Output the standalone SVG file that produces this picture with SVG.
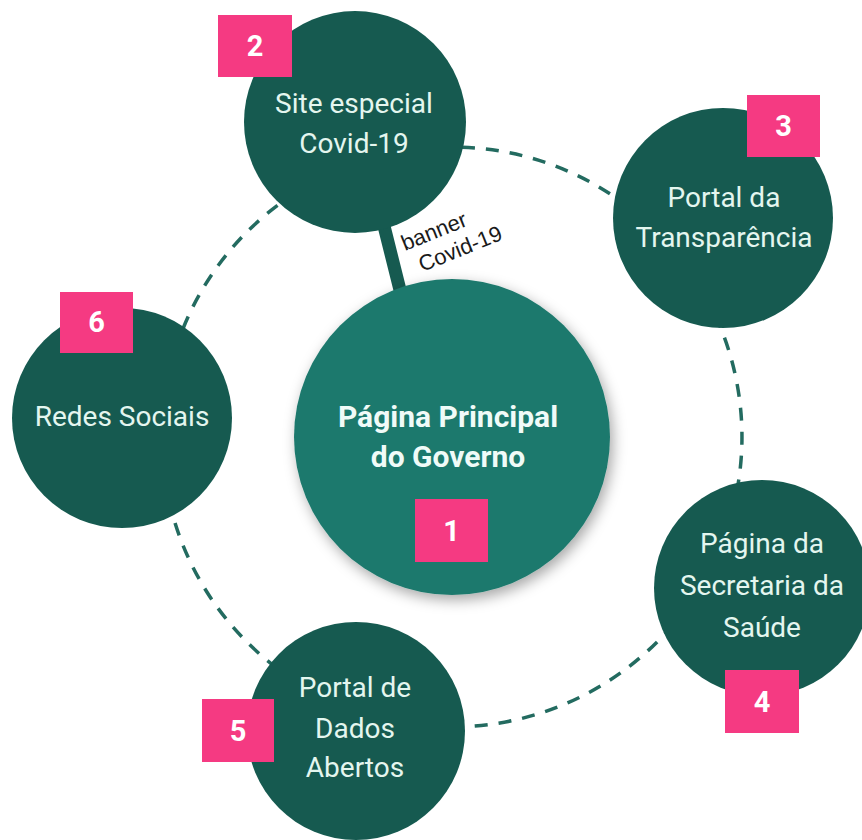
<svg xmlns="http://www.w3.org/2000/svg" width="862" height="840" viewBox="0 0 862 840">
  <defs>
    <filter id="shadow" x="-20%" y="-20%" width="140%" height="140%">
      <feDropShadow dx="3" dy="5" stdDeviation="7" flood-color="#000" flood-opacity="0.35"/>
    </filter>
    <style>
      .node { fill: #165a50; }
      .main { fill: #1f796d; }
      .badge { fill: #f53a82; }
      .lbl { font-family: Roboto, "Liberation Sans", sans-serif; font-size: 28px; fill: #e4f6ef; text-anchor: middle; }
      .mlbl { font-family: Roboto, "Liberation Sans", sans-serif; font-size: 30px; font-weight: bold; fill: #f0fbf8; text-anchor: middle; }
      .num { font-family: Roboto, "Liberation Sans", sans-serif; font-size: 29px; font-weight: bold; fill: #ffffff; text-anchor: middle; }
      .ring { fill: none; stroke: #236b60; stroke-width: 3.5; stroke-dasharray: 13 11; }
      .bar { stroke: #165a50; stroke-width: 13; }
      .blbl { font-family: "Liberation Sans", Arial, sans-serif; font-size: 22px; fill: #1a1a1a; }
    </style>
  </defs>
  <rect width="862" height="840" fill="#ffffff"/>

  <g id="connectors">
    <path class="ring" d="M367.2,159.7 A290,290 0 0 1 677.4,254.5"/>
    <path class="ring" d="M677.4,254.5 A290,290 0 0 1 712.6,564.1"/>
    <path class="ring" d="M712.6,564.1 A290,290 0 0 1 362.4,712.8"/>
    <path class="ring" d="M362.4,712.8 A290,290 0 0 1 162.4,421.8"/>
    <path class="ring" d="M162.4,421.8 A290,290 0 0 1 367.2,159.7"/>
    <line class="bar" x1="384" y1="226" x2="401" y2="294"/>
    <g transform="rotate(-22 405 251)">
      <text class="blbl" x="405" y="251">banner</text>
      <text class="blbl" x="413" y="277">Covid-19</text>
    </g>
  </g>

  <g id="node1">
    <circle class="main" cx="452" cy="437" r="158" filter="url(#shadow)"/>
    <text class="mlbl" x="448" y="427">Página Principal</text>
    <text class="mlbl" x="448" y="467">do Governo</text>
    <rect class="badge" x="415" y="499" width="73" height="63"/>
    <text class="num" x="451.5" y="541">1</text>
  </g>

  <g id="node2">
    <circle class="node" cx="355" cy="122" r="111"/>
    <text class="lbl" x="354" y="113">Site especial</text>
    <text class="lbl" x="354" y="153">Covid-19</text>
    <rect class="badge" x="218" y="15" width="74" height="62"/>
    <text class="num" x="255" y="56">2</text>
  </g>

  <g id="node3">
    <circle class="node" cx="723" cy="218" r="110"/>
    <text class="lbl" x="724" y="207">Portal da</text>
    <text class="lbl" x="724" y="247">Transparência</text>
    <rect class="badge" x="747" y="95" width="73" height="62"/>
    <text class="num" x="783.5" y="136">3</text>
  </g>

  <g id="node4">
    <circle class="node" cx="762" cy="588" r="108"/>
    <text class="lbl" x="762" y="553">Página da</text>
    <text class="lbl" x="762" y="595">Secretaria da</text>
    <text class="lbl" x="762" y="637">Saúde</text>
    <rect class="badge" x="725" y="670" width="74" height="63"/>
    <text class="num" x="762" y="712">4</text>
  </g>

  <g id="node5">
    <circle class="node" cx="356" cy="731" r="109"/>
    <text class="lbl" x="355" y="697">Portal de</text>
    <text class="lbl" x="355" y="738">Dados</text>
    <text class="lbl" x="355" y="777">Abertos</text>
    <rect class="badge" x="202" y="699" width="72" height="63"/>
    <text class="num" x="238" y="741">5</text>
  </g>

  <g id="node6">
    <circle class="node" cx="122" cy="418" r="110"/>
    <text class="lbl" x="122" y="426">Redes Sociais</text>
    <rect class="badge" x="60" y="292" width="73" height="61"/>
    <text class="num" x="96.5" y="332">6</text>
  </g>
</svg>
